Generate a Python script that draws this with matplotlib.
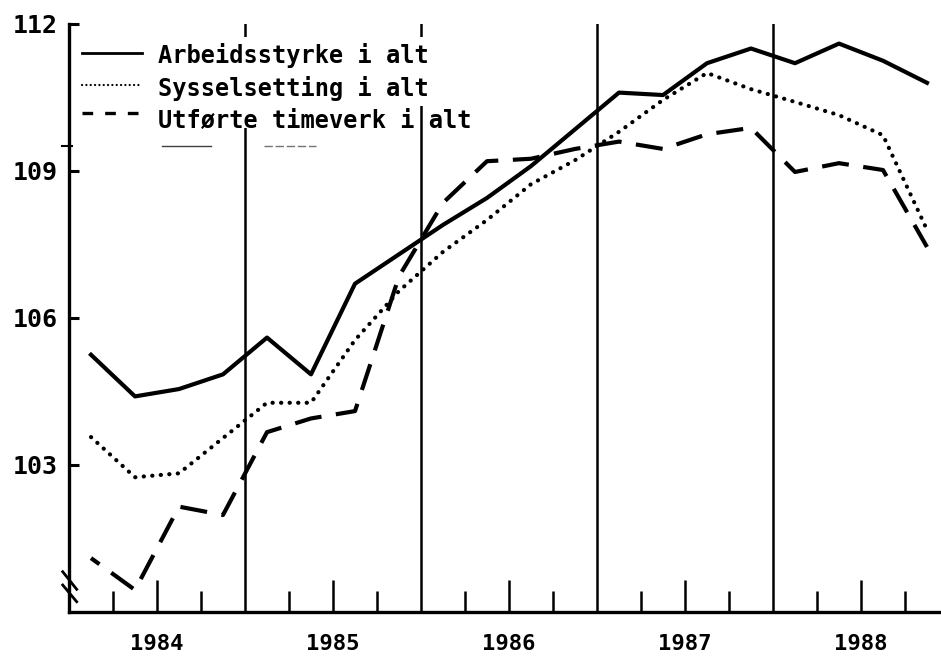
import matplotlib
matplotlib.use('Agg')
import matplotlib.pyplot as plt
from matplotlib.patches import Rectangle
import numpy as np

# quarterly index values 1984Q1 - 1988Q4
years = [1984, 1985, 1986, 1987, 1988]
arbeidsstyrke = [105.25, 104.4, 104.55, 104.85, 105.6, 104.85, 106.7, 107.3, 107.9, 108.45,
                 109.1, 109.85, 110.6, 110.55, 111.2, 111.5, 111.2, 111.6, 111.25, 110.8]
sysselsetting = [103.57, 102.75, 102.83, 103.55, 104.27, 104.27, 105.55, 106.55, 107.35, 108.0,
                 108.73, 109.22, 109.8, 110.45, 111.0, 110.67, 110.41, 110.14, 109.73, 107.8]
timeverk = [101.1, 100.45, 102.15, 101.98, 103.67, 103.95, 104.1, 106.85, 108.35, 109.2,
            109.25, 109.45, 109.6, 109.45, 109.75, 109.88, 108.98, 109.16, 109.02, 107.45]
labels = ['Arbeidsstyrke i alt', 'Sysselsetting i alt', 'Utførte timeverk i alt']
y_ticks = [103, 106, 109, 112]

plt.rcParams['font.family'] = ['DejaVu Sans Mono']
plt.rcParams['font.weight'] = 'bold'

x = years[0] + (np.arange(len(arbeidsstyrke)) + 0.5) / 4

fig = plt.figure(figsize=(9.41, 6.60), dpi=100)
ax = fig.add_axes([69 / 941, 48 / 660, 872 / 941, 588 / 660])

# year boundaries
for yr in years[1:]:
    ax.axvline(yr, color='black', lw=1.8, zorder=1)

dots = (0, (0.05, 2.0))
dashes = (4.0, (6.5, 3.5))
ax.plot(x, arbeidsstyrke, color='black', lw=3, solid_joinstyle='round', zorder=2)
ax.plot(x, sysselsetting, color='black', lw=3, linestyle=dots, dash_capstyle='round', zorder=2)
ax.plot(x, timeverk, color='black', lw=3, linestyle=dashes, zorder=2)

ax.set_xlim(years[0], years[0] + 872 / 176)
ax.set_ylim(100, 112)

for s in ['top', 'right']:
    ax.spines[s].set_visible(False)
for s in ['left', 'bottom']:
    ax.spines[s].set_linewidth(2.4)

ax.set_xticks([yr + 0.5 for yr in years])
ax.set_xticklabels([str(yr) for yr in years])
ax.set_xticks([yr + q for yr in years for q in (0.25, 0.75)], minor=True)
ax.tick_params(axis='x', which='major', direction='in', length=23, width=1.8,
               labelsize=16, pad=16)
ax.tick_params(axis='x', which='minor', direction='in', length=15, width=1.8)
ax.set_yticks(y_ticks)
ax.tick_params(axis='y', direction='in', length=7, width=2.2, labelsize=18, pad=8)

# legend box drawn by hand
ax.add_patch(Rectangle((6 / 872, (612 - 128) / 588), 325 / 872, 91 / 588,
                       transform=ax.transAxes, facecolor='white', edgecolor='none', zorder=3))
ax.add_patch(Rectangle((331 / 872, (612 - 106) / 588), 85 / 872, 69 / 588,
                       transform=ax.transAxes, facecolor='white', edgecolor='none', zorder=3))
sample_x = [0.0149, 0.0837]
ax.plot(sample_x, [0.9507] * 2, transform=ax.transAxes, color='black', lw=2, zorder=4)
ax.plot(sample_x, [0.8963] * 2, transform=ax.transAxes, color='black', lw=1.6,
        linestyle=(0, (0.05, 1.9)), dash_capstyle='round', zorder=4)
ax.plot(sample_x, [0.8486] * 2, transform=ax.transAxes, color='black', lw=2.4,
        linestyle=(0, (3.2, 3.6)), zorder=4)
for lab, yb in zip(labels, [0.9337, 0.8776, 0.8231]):
    ax.text(0.1021, yb, lab, transform=ax.transAxes, fontsize=17, va='baseline',
            ha='left', zorder=5)

# stray marks of the original print
fy = (612 - 146) / 588
ax.plot([0.1067, 0.1628], [fy, fy], transform=ax.transAxes, color='0.25', lw=1, zorder=4)
ax.plot([0.2236, 0.2833], [fy, fy], transform=ax.transAxes, color='0.45', lw=1,
        linestyle=(0, (6, 2)), zorder=4)
ax.plot([-0.008, 0.003], [fy, fy], transform=ax.transAxes, color='black', lw=1.5,
        clip_on=False)

# axis break mark
ax.plot([-0.0072, 0.0088], [0.0685, 0.0386], transform=ax.transAxes, color='black',
        lw=2, clip_on=False)
ax.plot([-0.0072, 0.0088], [0.0459, 0.0175], transform=ax.transAxes, color='black',
        lw=2, clip_on=False)

fig.savefig('out.png', dpi=100)
